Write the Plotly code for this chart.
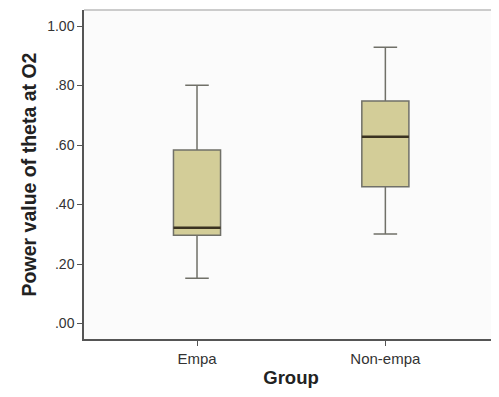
import plotly.graph_objects as go

categories = ["Empa", "Non-empa"]
positions = [0, 1]
lower_whisker = [0.152, 0.301]
q1_vals = [0.297, 0.460]
medians = [0.322, 0.628]
q3_vals = [0.583, 0.748]
upper_whisker = [0.801, 0.929]
y_tickvals = [0.0, 0.2, 0.4, 0.6, 0.8, 1.0]
y_ticktext = [".00", ".20", ".40", ".60", ".80", "1.00"]

box_w = 0.25

fig = go.Figure()
for i, cat in enumerate(categories):
    fig.add_trace(go.Box(
        x=[positions[i]],
        q1=[q1_vals[i]], median=[medians[i]], q3=[q3_vals[i]],
        lowerfence=[lower_whisker[i]], upperfence=[upper_whisker[i]],
        width=box_w, whiskerwidth=0.5,
        fillcolor="#d3cd98",
        line=dict(color="#707068", width=1.5),
        name=cat, showlegend=False, hoverinfo="skip",
    ))
    fig.add_trace(go.Scatter(
        x=[positions[i] - box_w / 2, positions[i] + box_w / 2],
        y=[medians[i], medians[i]],
        mode="lines", line=dict(color="#3a3220", width=2.5),
        showlegend=False, hoverinfo="skip",
    ))

fig.update_layout(
    width=491, height=389,
    margin=dict(l=76, r=1, t=2, b=58),
    paper_bgcolor="white", plot_bgcolor="#fbfbfb",
    font=dict(family="Liberation Sans, Arial, sans-serif", color="#333333"),
)
fig.update_xaxes(
    range=[-0.6, 1.598], tickvals=positions, ticktext=categories,
    ticks="outside", ticklen=5, tickcolor="#555555",
    showline=True, linecolor="#555555", linewidth=1.5, mirror=False,
    showgrid=False, zeroline=False,
    tickfont=dict(size=15, color="#333333"),
    title=dict(text="<b>Group</b>", font=dict(size=18.5, color="#222222"), standoff=5),
)
fig.update_yaxes(
    range=[-0.052, 1.054], tickvals=y_tickvals, ticktext=y_ticktext,
    ticks="outside", ticklen=5, tickcolor="#555555",
    showline=True, linecolor="#555555", linewidth=1.5,
    showgrid=False, zeroline=False,
    tickfont=dict(size=14, color="#333333"),
    title=dict(text="<b>Power value of theta at O2</b>", font=dict(size=19.5, color="#222222"), standoff=5),
)
fig.add_shape(type="line", xref="paper", yref="paper", x0=0, x1=1, y0=1, y1=1,
              line=dict(color="#bbbbbb", width=1.5))

fig.write_html("out.html")
